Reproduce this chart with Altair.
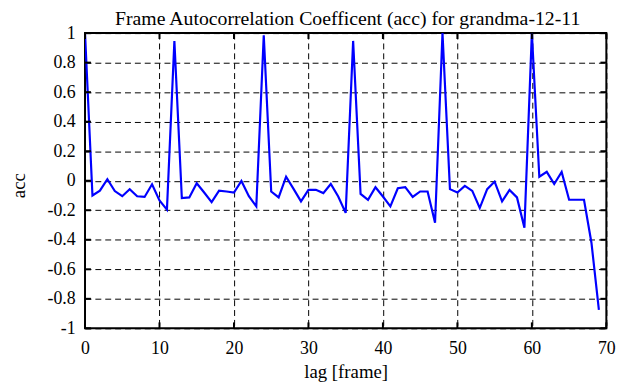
import altair as alt
import pandas as pd

lags = list(range(70))
acc = [
    1.0, -0.10, -0.067, 0.01, -0.07, -0.105, -0.057, -0.105, -0.11, -0.024,
    -0.134, -0.196, 0.947, -0.118, -0.113, -0.017, -0.08, -0.145, -0.067, -0.073,
    -0.08, -0.002, -0.105, -0.174, 0.985, -0.073, -0.113, 0.027, -0.055, -0.14,
    -0.062, -0.062, -0.084, -0.022, -0.107, -0.218, 0.947, -0.089, -0.129, -0.044,
    -0.107, -0.174, -0.051, -0.044, -0.11, -0.073, -0.073, -0.285, 1.0, -0.057,
    -0.08, -0.035, -0.069, -0.185, -0.057, -0.006, -0.14, -0.062, -0.113, -0.318,
    1.0, 0.027, 0.06, -0.022, 0.06, -0.129, -0.129, -0.129, -0.42, -0.875,
]
x_ticks = [0, 10, 20, 30, 40, 50, 60, 70]
y_ticks = [-1, -0.8, -0.6, -0.4, -0.2, 0, 0.2, 0.4, 0.6, 0.8, 1]
title_text = ["Frame Autocorrelation Coefficent (acc) for grandma-12-11"]

W, H = 528, 299
FONT = "Liberation Serif"

df = pd.DataFrame({"lag": lags, "acc": acc})
dfx = pd.DataFrame({"t": x_ticks})
dfy = pd.DataFrame({"t": y_ticks})
dft = pd.DataFrame({"title": title_text})

xscale = alt.Scale(domain=[0, 70], nice=False, zero=False)
yscale = alt.Scale(domain=[-1, 1], nice=False, zero=False)

xaxis = alt.Axis(values=x_ticks, title="lag [frame]", grid=True,
                 gridDash=[6, 4], gridColor="black", gridOpacity=1, gridWidth=1,
                 ticks=False, tickSize=0, domain=False,
                 labelFont=FONT, labelFontSize=18, labelColor="black",
                 labelPadding=12, labelFlush=False, labelOverlap=False,
                 titleFont=FONT, titleFontSize=19, titleFontWeight="normal",
                 titleColor="black", titlePadding=5)
yaxis = alt.Axis(values=y_ticks, title="acc", grid=True,
                 gridDash=[6, 4], gridColor="black", gridOpacity=1, gridWidth=1,
                 ticks=False, tickSize=0, domain=False,
                 labelExpr="'' + datum.value",
                 labelFont=FONT, labelFontSize=18, labelColor="black",
                 labelPadding=10, labelFlush=False, labelOverlap=False,
                 titleFont=FONT, titleFontSize=19, titleFontWeight="normal",
                 titleColor="black", titleX=-67, titleY=154,
                 titleBaseline="middle", titleAlign="center")

line = alt.Chart(df).mark_line(color="#0000ff", strokeWidth=2.2, clip=True).encode(
    x=alt.X("lag:Q", scale=xscale, axis=xaxis),
    y=alt.Y("acc:Q", scale=yscale, axis=yaxis),
)

tl = alt.Chart(dfy).mark_rule(color="black", strokeWidth=2).encode(
    y=alt.Y("t:Q", scale=yscale, axis=yaxis), x=alt.value(0), x2=alt.value(6))
tr = alt.Chart(dfy).mark_rule(color="black", strokeWidth=2).encode(
    y=alt.Y("t:Q", scale=yscale, axis=yaxis), x=alt.value(W), x2=alt.value(W - 6))
tb = alt.Chart(dfx).mark_rule(color="black", strokeWidth=2).encode(
    x=alt.X("t:Q", scale=xscale, axis=xaxis), y=alt.value(H), y2=alt.value(H - 6))
tt = alt.Chart(dfx).mark_rule(color="black", strokeWidth=2).encode(
    x=alt.X("t:Q", scale=xscale, axis=xaxis), y=alt.value(0), y2=alt.value(6))

title = alt.Chart(dft).mark_text(font=FONT, fontSize=20, color="black",
                                 align="center", baseline="alphabetic").encode(
    text="title:N", x=alt.value(W / 2 + 2), y=alt.value(-8))

chart = alt.layer(line, tl, tr, tb, tt, title).properties(
    width=W, height=H,
    autosize=alt.AutoSizeParams(type="none"),
    padding={"left": 78, "top": 23, "right": 27, "bottom": 57},
    background="white",
).configure_view(stroke="black", strokeWidth=2).configure_axis(
    labelFont=FONT, titleFont=FONT, labelFontSize=18, titleFontSize=19,
    labelColor="black", titleColor="black", titleFontWeight="normal",
)

chart.save("out.html", embed_options={"renderer": "svg", "actions": False})
